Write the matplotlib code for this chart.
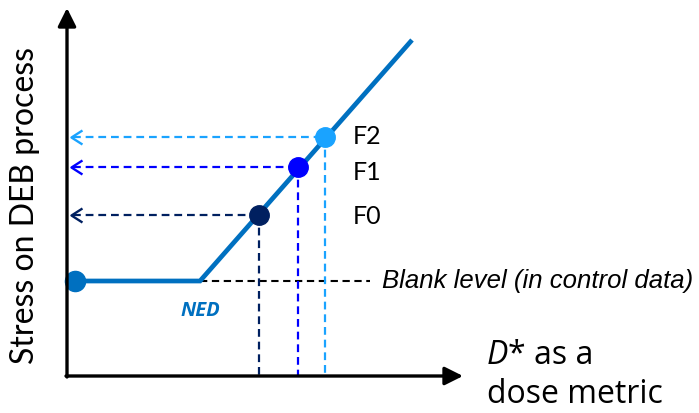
import matplotlib
matplotlib.use('Agg')
import matplotlib.pyplot as plt
from matplotlib.path import Path

# ---- schematic data (arbitrary units, origin at the axes corner) ----
curve_dose = [8, 133, 345]          # dose metric D*
curve_stress = [95, 95, 336]        # stress on DEB process
ned_dose = 133                      # no-effect dose
blank_level = 95
blank_end = 303
point_labels = ['F0', 'F1', 'F2']
point_dose = [192, 231, 258]
point_stress = [161, 209, 239]
label_stress = [160, 204, 240]
point_colors = ['#002060', '#0000FF', '#1AA3FF']
x_axis_end = 396
y_axis_end = 368
arrow_tip = 4

line_blue = '#0070C0'
main_font = ['Lato', 'DejaVu Sans']
alt_font = ['Open Sans', 'DejaVu Sans']

fig = plt.figure(figsize=(6.99, 4.13), dpi=100)
ax = fig.add_axes([0, 0, 1, 1])
ax.set_xlim(-67, 632)
ax.set_ylim(-37, 376)
ax.axis('off')

# axes arrows
arrow_kw = dict(arrowstyle='-|>,head_length=1.1,head_width=0.55', color='black',
                lw=2.4, shrinkA=0, shrinkB=0)
ax.annotate('', xy=(0, y_axis_end), xytext=(0, -1), arrowprops=arrow_kw, zorder=5)
ax.annotate('', xy=(x_axis_end, 0), xytext=(-1, 0), arrowprops=arrow_kw, zorder=5)

# stress curve
ax.plot(curve_dose, curve_stress, color=line_blue, lw=3.4, solid_capstyle='butt',
        solid_joinstyle='miter', zorder=3)
ax.plot([curve_dose[0]], [curve_stress[0]], 'o', color=line_blue, ms=14.5, zorder=4)

# blank level
ax.plot([ned_dose, blank_end], [blank_level, blank_level], color='black', lw=1.5,
        dashes=[3.5, 2.2], zorder=2)

chevron = Path([(1, 0.64), (0, 0), (1, -0.64)], [Path.MOVETO, Path.LINETO, Path.LINETO])

for d, s, c in zip(point_dose, point_stress, point_colors):
    ax.plot([d, d], [s, 0], color=c, lw=1.6, dashes=[3.5, 2.2], zorder=2)
    ax.plot([arrow_tip + 2, d], [s, s], color=c, lw=1.6, dashes=[3.5, 2.2], zorder=2)
    ax.plot([arrow_tip], [s], marker=chevron, ms=15.8, mfc='none', mec=c, mew=1.7,
            zorder=2)
    ax.plot([d], [s], 'o', color=c, ms=14, zorder=4)

for lab, ls in zip(point_labels, label_stress):
    ax.text(286, ls, lab, fontsize=18, family=main_font, ha='left', va='center')

ax.text(ned_dose, 65, 'NED', color=line_blue, fontsize=14.5, family=alt_font,
        fontweight='bold', fontstyle='italic', ha='center', va='center')

ax.text(315, blank_level, 'Blank level (in control data)', fontsize=18.5,
        family=['Liberation Sans', 'DejaVu Sans'], fontstyle='italic',
        ha='left', va='center')

ax.text(-42, 171, 'Stress on DEB process', rotation=90, fontsize=23,
        family=main_font, ha='center', va='center')

t = ax.text(420, 12, 'D', fontsize=23, family=alt_font, fontstyle='italic',
            ha='left', va='baseline')
ax.annotate('* as a', xy=(1, 0), xycoords=t, fontsize=23, family=alt_font,
            ha='left', va='bottom')
ax.text(420, -27, 'dose metric', fontsize=23, family=alt_font, ha='left', va='baseline')

fig.savefig('out.png', dpi=100)
